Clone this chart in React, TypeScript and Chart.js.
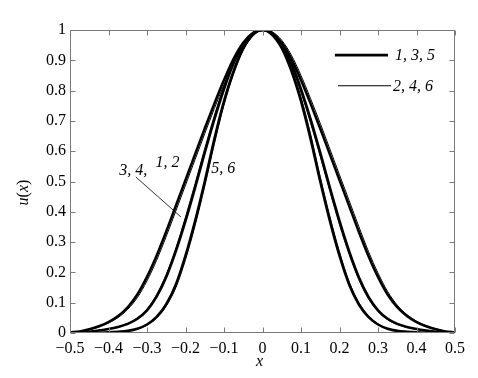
import React, { useEffect, useRef } from "react";
import { Chart, registerables } from "chart.js";

Chart.register(...registerables);

// ---- data ----
const xValues = [
  -0.5, -0.475, -0.45, -0.425, -0.4, -0.375, -0.35, -0.325, -0.3, -0.275, -0.25, -0.225, -0.2, -0.175, -0.15, -0.125, -0.1, -0.075, -0.05, -0.025,
  0,
  0.025, 0.05, 0.075, 0.1, 0.125, 0.15, 0.175, 0.2, 0.225, 0.25, 0.275, 0.3, 0.325, 0.35, 0.375, 0.4, 0.425, 0.45, 0.475, 0.5,
];

// curves 1, 2 (widest pair)
const curve1 = [
  0.002, 0.005, 0.012, 0.022, 0.036, 0.056, 0.085, 0.127, 0.185, 0.255, 0.335, 0.42, 0.505, 0.59, 0.675, 0.757, 0.835, 0.905, 0.958, 0.99,
  1,
  0.99, 0.958, 0.905, 0.835, 0.757, 0.675, 0.59, 0.505, 0.42, 0.335, 0.255, 0.185, 0.127, 0.085, 0.056, 0.036, 0.022, 0.012, 0.005, 0.002,
];
const curve2 = [
  0.002, 0.004, 0.01, 0.02, 0.033, 0.051, 0.078, 0.117, 0.172, 0.24, 0.319, 0.403, 0.488, 0.573, 0.658, 0.741, 0.82, 0.893, 0.95, 0.986,
  1,
  0.994, 0.966, 0.917, 0.85, 0.773, 0.692, 0.607, 0.522, 0.437, 0.352, 0.27, 0.198, 0.137, 0.092, 0.061, 0.039, 0.024, 0.014, 0.006, 0.002,
];
// curves 3, 4 (middle pair)
const curve3 = [
  0.001, 0.002, 0.004, 0.008, 0.013, 0.02, 0.03, 0.047, 0.075, 0.12, 0.185, 0.27, 0.37, 0.48, 0.595, 0.705, 0.805, 0.89, 0.952, 0.988,
  1,
  0.988, 0.952, 0.89, 0.805, 0.705, 0.595, 0.48, 0.37, 0.27, 0.185, 0.12, 0.075, 0.047, 0.03, 0.02, 0.013, 0.008, 0.004, 0.002, 0.001,
];
const curve4 = [
  0.001, 0.002, 0.004, 0.009, 0.014, 0.021, 0.032, 0.05, 0.079, 0.127, 0.194, 0.281, 0.383, 0.494, 0.609, 0.718, 0.816, 0.899, 0.958, 0.991,
  1,
  0.985, 0.946, 0.881, 0.794, 0.692, 0.582, 0.467, 0.357, 0.259, 0.176, 0.113, 0.071, 0.044, 0.028, 0.019, 0.012, 0.007, 0.004, 0.002, 0.001,
];
// curves 5, 6 (narrowest pair)
const curve5 = [
  0, 0, 0.0005, 0.001, 0.002, 0.004, 0.007, 0.014, 0.028, 0.053, 0.095, 0.16, 0.255, 0.37, 0.5, 0.64, 0.765, 0.865, 0.94, 0.984,
  1,
  0.984, 0.94, 0.865, 0.765, 0.64, 0.5, 0.37, 0.255, 0.16, 0.095, 0.053, 0.028, 0.014, 0.007, 0.004, 0.002, 0.001, 0.0005, 0, 0,
];
const curve6 = [
  0, 0, 0.0005, 0.001, 0.002, 0.004, 0.006, 0.013, 0.026, 0.049, 0.089, 0.15, 0.242, 0.355, 0.484, 0.624, 0.752, 0.854, 0.933, 0.98,
  1,
  0.988, 0.947, 0.876, 0.779, 0.656, 0.516, 0.385, 0.268, 0.17, 0.101, 0.057, 0.03, 0.015, 0.008, 0.004, 0.002, 0.001, 0.0005, 0, 0,
];

const xTicks = [-0.5, -0.4, -0.3, -0.2, -0.1, 0, 0.1, 0.2, 0.3, 0.4, 0.5];
const yTicks = [0, 0.1, 0.2, 0.3, 0.4, 0.5, 0.6, 0.7, 0.8, 0.9, 1];

const legendLabels = ["1, 3, 5", "2, 4, 6"];
const curveLabels = ["3, 4,", "1, 2", "5, 6"];

// ---- layout / style (not data) ----
const FONT = '"Liberation Serif", "Times New Roman", serif';
const W = 478;
const H = 378;
const THICK = 2.6;
const THIN = 1;
const AXIS_COLOR = "#7a7a7a";

const labelPos = [
  { x: -0.336, y: 0.535 },
  { x: -0.247, y: 0.561 },
  { x: -0.102, y: 0.541 },
];
const leader = { x1: -0.329, y1: 0.515, x2: -0.212, y2: 0.383 };
const legendPos = [
  { x1: 0.188, x2: 0.326, y: 0.917, tx: 0.344, w: THICK },
  { x1: 0.196, x2: 0.334, y: 0.816, tx: 0.339, w: THIN },
];

const fmt = (v: number) => {
  const r = Math.round(v * 10) / 10;
  if (r === 0) return "0";
  if (r === 1) return "1";
  const s = Math.abs(r).toFixed(1);
  return r < 0 ? "\u2212" + s : s;
};

const toPts = (ys: number[]) => xValues.map((x, i) => ({ x, y: ys[i] }));

const overlay = {
  id: "overlay",
  afterDatasetsDraw(chart: any) {
    const { ctx, chartArea: a, scales } = chart;
    const xs = scales.x;
    const ys = scales.y;
    ctx.save();
    // axes box
    ctx.strokeStyle = AXIS_COLOR;
    ctx.lineWidth = 1;
    const L = Math.round(a.left) + 0.5;
    const R = Math.round(a.right) - 0.5;
    const T = Math.round(a.top) + 0.5;
    const B = Math.round(a.bottom) - 0.5;
    ctx.beginPath();
    ctx.moveTo(L, T);
    ctx.lineTo(R, T);
    ctx.lineTo(R, B);
    ctx.lineTo(L, B);
    ctx.closePath();
    ctx.stroke();
    const tl = 5;
    ctx.beginPath();
    xTicks.forEach((v) => {
      const px = Math.round(xs.getPixelForValue(v)) + 0.5;
      ctx.moveTo(px, B);
      ctx.lineTo(px, B - tl);
      ctx.moveTo(px, T);
      ctx.lineTo(px, T + tl);
    });
    yTicks.forEach((v) => {
      const py = Math.round(ys.getPixelForValue(v)) + 0.5;
      ctx.moveTo(L, py);
      ctx.lineTo(L + tl, py);
      ctx.moveTo(R, py);
      ctx.lineTo(R - tl, py);
    });
    ctx.stroke();

    // legend
    ctx.strokeStyle = "#000";
    legendPos.forEach((lg, i) => {
      ctx.lineWidth = lg.w;
      ctx.beginPath();
      const py = ys.getPixelForValue(lg.y);
      ctx.moveTo(xs.getPixelForValue(lg.x1), py);
      ctx.lineTo(xs.getPixelForValue(lg.x2), py);
      ctx.stroke();
      ctx.fillStyle = "#000";
      ctx.font = "italic 16px " + FONT;
      ctx.textAlign = "left";
      ctx.textBaseline = "middle";
      ctx.fillText(legendLabels[i], xs.getPixelForValue(lg.tx), py + 1);
    });

    // curve labels
    ctx.font = "italic 16px " + FONT;
    ctx.textAlign = "center";
    ctx.textBaseline = "middle";
    curveLabels.forEach((t, i) => {
      ctx.fillText(t, xs.getPixelForValue(labelPos[i].x), ys.getPixelForValue(labelPos[i].y));
    });
    ctx.lineWidth = 0.8;
    ctx.beginPath();
    ctx.moveTo(xs.getPixelForValue(leader.x1), ys.getPixelForValue(leader.y1));
    ctx.lineTo(xs.getPixelForValue(leader.x2), ys.getPixelForValue(leader.y2));
    ctx.stroke();

    // x title
    ctx.font = "italic 16px " + FONT;
    ctx.textAlign = "center";
    ctx.textBaseline = "middle";
    ctx.fillText("x", (a.left + a.right) / 2 - 3, a.bottom + 29);

    // y title u(x), rotated
    ctx.translate(24, (a.top + a.bottom) / 2 + 11);
    ctx.rotate(-Math.PI / 2);
    const parts = [
      { t: "u", f: "italic 16px " + FONT },
      { t: "(", f: "16px " + FONT },
      { t: "x", f: "italic 16px " + FONT },
      { t: ")", f: "16px " + FONT },
    ];
    let total = 0;
    parts.forEach((p) => {
      ctx.font = p.f;
      total += ctx.measureText(p.t).width;
    });
    let cx = -total / 2;
    ctx.textAlign = "left";
    parts.forEach((p) => {
      ctx.font = p.f;
      ctx.fillText(p.t, cx, 0);
      cx += ctx.measureText(p.t).width;
    });
    ctx.restore();
  },
};

export default function App() {
  const ref = useRef<HTMLCanvasElement>(null);
  useEffect(() => {
    document.body.style.margin = "0";
    const mk = (data: number[], w: number) => ({
      data: toPts(data),
      borderColor: "#000",
      borderWidth: w,
      pointRadius: 0,
      fill: false,
      cubicInterpolationMode: "monotone" as const,
    });
    const chart = new Chart(ref.current!, {
      type: "line",
      data: {
        datasets: [
          mk(curve2, THIN),
          mk(curve4, THIN),
          mk(curve6, THIN),
          mk(curve1, THICK),
          mk(curve3, THICK),
          mk(curve5, THICK),
        ],
      },
      options: {
        responsive: false,
        animation: false,
        events: [],
        layout: { padding: { top: 30, right: 23, left: 0, bottom: 0 } },
        plugins: { legend: { display: false }, tooltip: { enabled: false } },
        scales: {
          x: {
            type: "linear",
            min: -0.5,
            max: 0.5,
            afterBuildTicks: (s: any) => {
              s.ticks = xTicks.map((v) => ({ value: v }));
            },
            afterFit: (s: any) => {
              s.height = 45;
            },
            grid: { display: false, drawTicks: false },
            border: { display: false },
            ticks: {
              autoSkip: false,
              maxRotation: 0,
              padding: 6,
              color: "#000",
              font: { family: FONT, size: 16 },
              callback: (v: any) => fmt(Number(v)),
            },
          },
          y: {
            type: "linear",
            min: 0,
            max: 1,
            afterBuildTicks: (s: any) => {
              s.ticks = yTicks.map((v) => ({ value: v }));
            },
            afterFit: (s: any) => {
              s.width = 70;
            },
            grid: { display: false, drawTicks: false },
            border: { display: false },
            ticks: {
              autoSkip: false,
              padding: 4,
              color: "#000",
              font: { family: FONT, size: 16 },
              callback: (v: any) => fmt(Number(v)),
            },
          },
        },
      },
      plugins: [overlay],
    });
    return () => chart.destroy();
  }, []);
  return (
    <div style={{ position: "absolute", left: 0, top: 0, width: W, height: H, background: "#fff" }}>
      <canvas ref={ref} width={W} height={H} style={{ display: "block" }} />
    </div>
  );
}
